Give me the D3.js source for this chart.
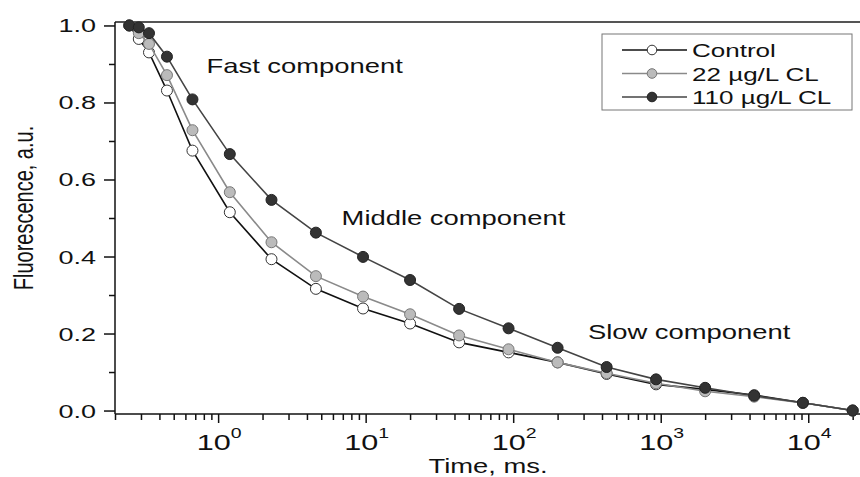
<!DOCTYPE html>
<html>
<head>
<meta charset="utf-8">
<script src="https://cdn.jsdelivr.net/npm/d3@7"></script>
<style>
  body { margin: 0; background: #fff; }
  text { font-family: "Liberation Sans", Arial, sans-serif; fill: #111; }
</style>
</head>
<body>
<svg width="860" height="477"></svg>
<script>
// data
const times = [0.25, 0.29, 0.34, 0.45, 0.67, 1.2, 2.3, 4.6, 9.6, 20, 43, 93, 200, 430, 930, 2000, 4300, 9200, 20000];
const control = [1.0, 0.965, 0.93, 0.831, 0.675, 0.515, 0.393, 0.316, 0.265, 0.226, 0.177, 0.151, 0.125, 0.095, 0.068, 0.055, 0.04, 0.02, 0.0];
const cl22 = [1.0, 0.98, 0.952, 0.871, 0.728, 0.567, 0.437, 0.349, 0.296, 0.25, 0.195, 0.159, 0.125, 0.097, 0.071, 0.05, 0.036, 0.02, 0.0];
const cl110 = [1.0, 0.995, 0.98, 0.919, 0.808, 0.666, 0.547, 0.462, 0.399, 0.339, 0.264, 0.2135, 0.163, 0.113, 0.081, 0.059, 0.0385, 0.02, 0.0];
const seriesNames = ["Control", "22 µg/L CL", "110 µg/L CL"];
const yTicks = [0, 0.2, 0.4, 0.6, 0.8, 1.0];
const yMinor = [0.1, 0.3, 0.5, 0.7, 0.9];
const xDecades = [0, 1, 2, 3, 4];
const notes = [
  { text: "Fast component", t: 0.834, v: 0.876 },
  { text: "Middle component", t: 6.87, v: 0.482 },
  { text: "Slow component", t: 321, v: 0.185 }
];

const svg = d3.select("svg");
const sx = 1.37; // the original figure is stretched sideways

const x = d3.scaleLog().domain([0.2, 21400]).range([115, 857]);
const y = d3.scaleLinear().domain([-0.009, 1.009]).range([414, 22]);

const styles = [
  { fill: "#fff", stroke: "#333", line: "#111" },
  { fill: "#bbb", stroke: "#777", line: "#8a8a8a" },
  { fill: "#333", stroke: "#222", line: "#444" }
];
const data = [control, cl22, cl110].map((vals, i) => ({
  name: seriesNames[i],
  style: styles[i],
  pts: vals.map((v, j) => ({ t: times[j], v: v }))
}));

function stretched(sel, px, py, s) {
  return sel.attr("transform", `translate(${px},${py}) scale(${s},1)`);
}

// frame
svg.append("line")
  .attr("x1", 115).attr("x2", 860).attr("y1", 22).attr("y2", 22)
  .attr("stroke", "#555").attr("stroke-width", 2);

// y axis
const gy = svg.append("g").attr("transform", "translate(115,0)");
gy.call(d3.axisLeft(y).tickValues(yTicks).tickSize(11).tickFormat(""));
gy.append("g").call(d3.axisLeft(y).tickValues(yMinor).tickSize(6).tickFormat(""));
gy.selectAll(".domain").remove();
gy.selectAll("line").attr("stroke", "#111").attr("stroke-width", 1.5);
gy.append("line").attr("y1", 22).attr("y2", 414).attr("stroke", "#111").attr("stroke-width", 1.5);

yTicks.forEach((v) => {
  stretched(svg.append("text"), 96, y(v) + 7, 1.42)
    .attr("text-anchor", "end")
    .style("font-size", "19px")
    .text(d3.format(".1f")(v));
});

// x axis
const minor = [];
for (let e = -1; e <= 4; e++) {
  for (let m = 2; m <= 9; m++) {
    const t = m * Math.pow(10, e);
    if (t >= 0.2 && t <= 21400) minor.push(t);
  }
}
const gx = svg.append("g").attr("transform", "translate(0,414)");
gx.call(d3.axisBottom(x).tickValues(xDecades.map((e) => Math.pow(10, e))).tickSize(9).tickFormat(""));
gx.append("g").call(d3.axisBottom(x).tickValues(minor).tickSize(6).tickFormat(""));
gx.selectAll(".domain").remove();
gx.selectAll("line").attr("stroke", "#111").attr("stroke-width", 1.5);
gx.append("line").attr("x1", 115).attr("x2", 860).attr("stroke", "#111").attr("stroke-width", 1.5);

xDecades.forEach((e) => {
  const t = stretched(svg.append("text"), x(Math.pow(10, e)) + 1, 450, 1.39)
    .attr("text-anchor", "middle")
    .style("font-size", "22px");
  t.append("tspan").text("10");
  t.append("tspan").attr("dy", -12).style("font-size", "14px").text(e);
});

stretched(svg.append("text"), 488, 473, sx)
  .attr("text-anchor", "middle")
  .style("font-size", "20px")
  .text("Time, ms.");

svg.append("text")
  .attr("transform", `translate(33,208) rotate(-90) scale(1,${sx})`)
  .attr("text-anchor", "middle")
  .style("font-size", "20px")
  .text("Fluorescence, a.u.");

// series
const line = d3.line().x((d) => x(d.t)).y((d) => y(d.v));
const gs = svg.selectAll(".series").data(data).enter().append("g").attr("class", "series");
gs.append("path")
  .attr("d", (d) => line(d.pts))
  .attr("fill", "none")
  .attr("stroke", (d) => d.style.line)
  .attr("stroke-width", 1.6);
gs.selectAll("circle")
  .data((d) => d.pts.map((p) => ({ p: p, style: d.style })))
  .enter()
  .append("circle")
  .attr("cx", (d) => x(d.p.t))
  .attr("cy", (d) => y(d.p.v))
  .attr("r", 5.5)
  .attr("fill", (d) => d.style.fill)
  .attr("stroke", (d) => d.style.stroke)
  .attr("stroke-width", 1);

// annotations
notes.forEach((n) => {
  stretched(svg.append("text"), x(n.t), y(n.v), sx)
    .style("font-size", "20px")
    .text(n.text);
});

// legend
const lg = svg.append("g").attr("transform", "translate(602,34)");
lg.append("rect").attr("width", 250).attr("height", 76)
  .attr("fill", "#fff").attr("stroke", "#777").attr("stroke-width", 1);
data.forEach((d, i) => {
  const ly = 16 + i * 23.5;
  lg.append("line").attr("x1", 20).attr("x2", 85).attr("y1", ly).attr("y2", ly)
    .attr("stroke", d.style.line).attr("stroke-width", 1.6);
  lg.append("circle").attr("cx", 50).attr("cy", ly).attr("r", 4.8)
    .attr("fill", d.style.fill).attr("stroke", d.style.stroke);
  stretched(lg.append("text"), 90, ly + 7, sx)
    .style("font-size", "19px")
    .text(d.name);
});
</script>
</body>
</html>
